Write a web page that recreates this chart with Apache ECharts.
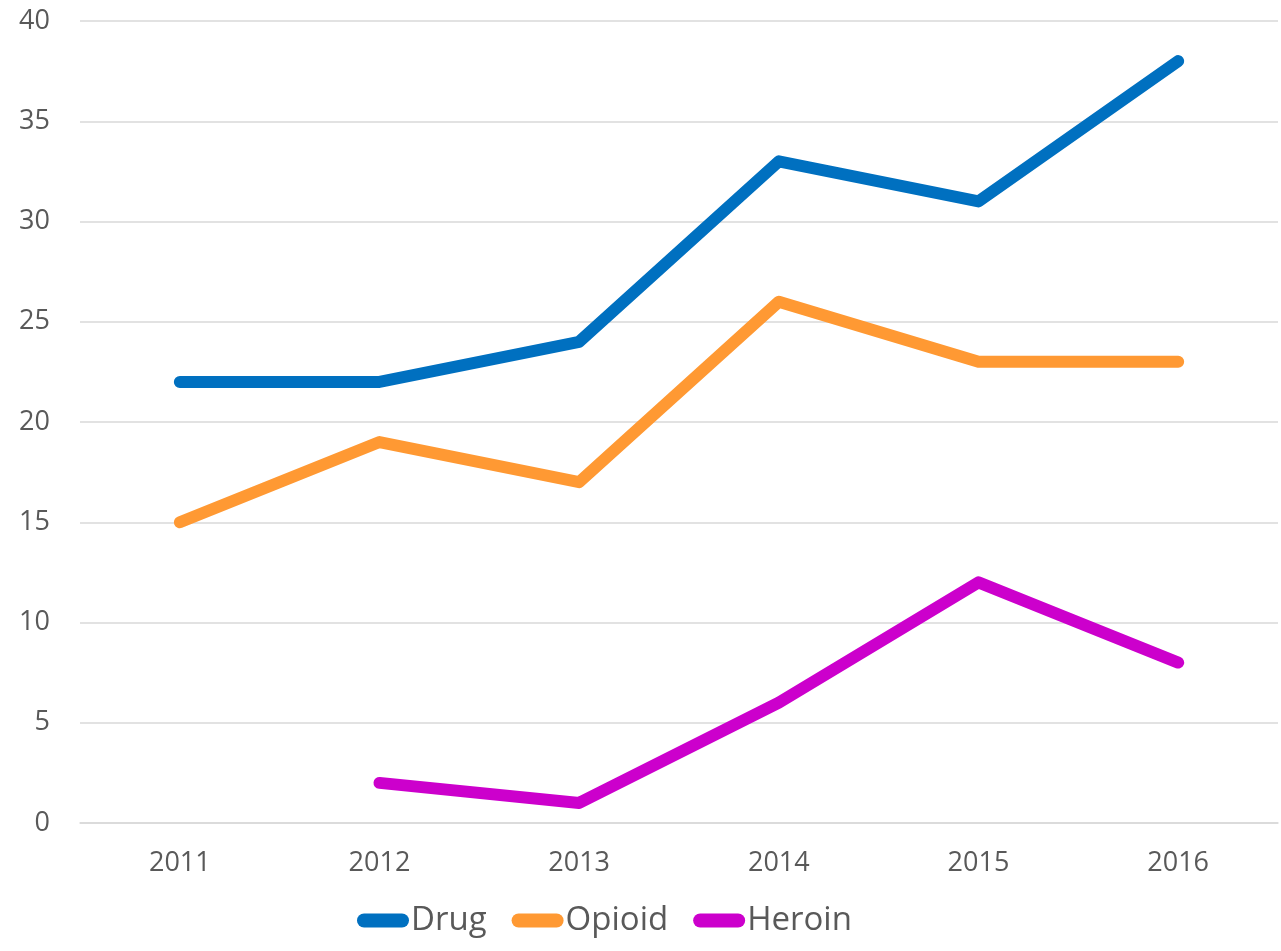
<!DOCTYPE html>
<html>
<head>
<meta charset="utf-8">
<script src="https://cdn.jsdelivr.net/npm/echarts@6/dist/echarts.min.js"></script>
<style>
  html, body { margin: 0; padding: 0; background: #fff; }
  #chart { width: 1281px; height: 951px; }
</style>
</head>
<body>
<div id="chart"></div>
<script>
const years = ['2011', '2012', '2013', '2014', '2015', '2016'];
const drug = [22, 22, 24, 33, 31, 38];
const opioid = [15, 19, 17, 26, 23, 23];
const heroin = [null, 2, 1, 6, 12, 8];

const colors = { Drug: '#0070C0', Opioid: '#FF9933', Heroin: '#CC00CC' };
const pill = 'path://M7,0 H45 A7,7 0 0 1 45,14 H7 A7,7 0 0 1 7,0 Z';

function lineSeries(name, data) {
    return {
        name: name,
        type: 'line',
        data: data,
        showSymbol: false,
        symbol: 'none',
        connectNulls: false,
        lineStyle: { color: colors[name], width: 12, cap: 'round', join: 'round' },
        itemStyle: { color: colors[name] },
        emphasis: { disabled: true }
    };
}

const chart = echarts.init(document.getElementById('chart'));
chart.setOption({
    animation: false,
    textStyle: { fontFamily: 'Open Sans' },
    grid: { left: 80, right: 3, top: 21, bottom: 128, containLabel: false },
    legend: {
        left: 352,
        top: 899,
        itemWidth: 52,
        itemHeight: 14,
        itemGap: 25,
        data: [
            { name: 'Drug', icon: pill },
            { name: 'Opioid', icon: pill },
            { name: 'Heroin', icon: pill }
        ],
        textStyle: { fontSize: 33, color: '#595959', fontFamily: 'Open Sans', padding: [0, 0, 0, -3] }
    },
    xAxis: {
        type: 'category',
        data: years,
        boundaryGap: true,
        axisLine: { show: true, lineStyle: { color: '#d9d9d9', width: 1.5 } },
        axisTick: { show: false },
        axisLabel: { color: '#595959', fontSize: 27, margin: 27 }
    },
    yAxis: {
        type: 'value',
        min: 0,
        max: 40,
        interval: 5,
        axisLine: { show: false },
        axisTick: { show: false },
        axisLabel: { color: '#595959', fontSize: 27, margin: 30 },
        splitLine: { lineStyle: { color: '#d9d9d9', width: 1.5 } }
    },
    series: [
        lineSeries('Drug', drug),
        lineSeries('Opioid', opioid),
        lineSeries('Heroin', heroin)
    ]
});
</script>
</body>
</html>
